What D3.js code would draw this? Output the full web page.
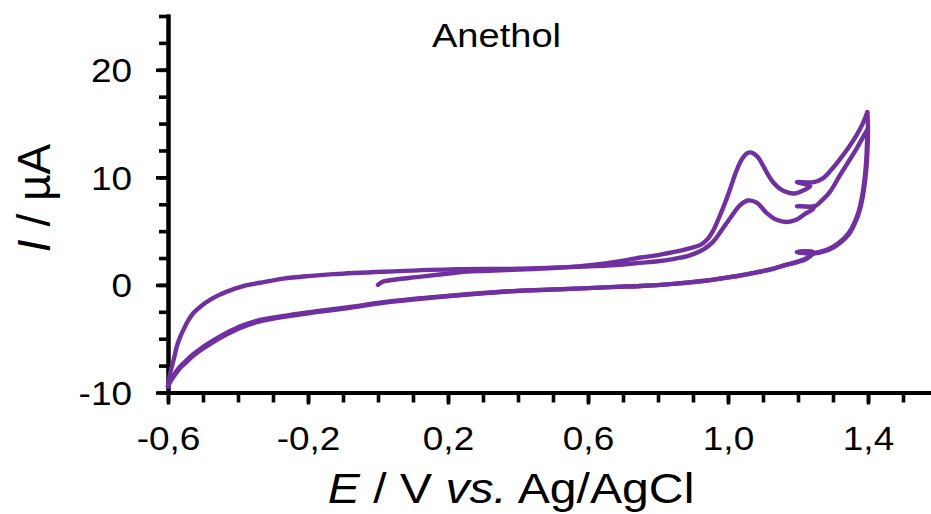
<!DOCTYPE html>
<html>
<head>
<meta charset="utf-8">
<script src="https://cdn.jsdelivr.net/npm/d3@7"></script>
<style>
  html, body { margin: 0; padding: 0; background: #fff; }
  svg { display: block; font-family: "Liberation Sans", Arial, sans-serif; }
</style>
</head>
<body>
<svg id="chart" width="931" height="514"></svg>
<script>
// Cyclic voltammogram of anethole: two full cycles, [E / V, I / µA]
const scan1Anodic = [
  [0.000, 0.00], [0.012, 0.28], [0.050, 0.50], [0.110, 0.72], [0.170, 0.95],
  [0.234, 1.18], [0.300, 1.30], [0.400, 1.43], [0.500, 1.58], [0.586, 1.77],
  [0.650, 2.00], [0.700, 2.25], [0.750, 2.55], [0.790, 2.72], [0.843, 3.05],
  [0.890, 3.40], [0.920, 3.70], [0.940, 4.20], [0.957, 5.00], [0.975, 6.30],
  [0.996, 8.00], [1.010, 9.30], [1.024, 10.60], [1.040, 11.70], [1.055, 12.25],
  [1.068, 12.30], [1.085, 11.90], [1.100, 11.10], [1.115, 10.20], [1.130, 9.50],
  [1.150, 8.90], [1.170, 8.60], [1.190, 8.50], [1.210, 8.70], [1.235, 9.20],
  [1.197, 9.55], [1.245, 9.55], [1.271, 9.90], [1.295, 10.70], [1.320, 11.70],
  [1.345, 12.80], [1.367, 13.90], [1.385, 15.00], [1.398, 16.06]
];
const scan1Cathodic = [
  [1.398, 16.06], [1.400, 14.50], [1.399, 13.00], [1.396, 11.10], [1.391, 9.50],
  [1.385, 8.20], [1.375, 6.80], [1.362, 5.70], [1.345, 4.70], [1.320, 3.90],
  [1.290, 3.30], [1.260, 3.00], [1.243, 2.90], [1.197, 3.05], [1.243, 3.02],
  [1.225, 2.45], [1.196, 2.10], [1.160, 1.80], [1.129, 1.50], [1.080, 1.15],
  [1.034, 0.87], [0.985, 0.62], [0.939, 0.40], [0.844, 0.10], [0.749, -0.10],
  [0.680, -0.18], [0.600, -0.30], [0.500, -0.42], [0.396, -0.55], [0.300, -0.75],
  [0.206, -1.00], [0.100, -1.30], [0.015, -1.60], [-0.080, -2.05], [-0.175, -2.45],
  [-0.250, -2.78], [-0.337, -3.25], [-0.390, -3.80], [-0.432, -4.45], [-0.480, -5.35],
  [-0.510, -6.00], [-0.528, -6.45], [-0.550, -7.10], [-0.566, -7.60], [-0.582, -8.30],
  [-0.594, -8.90], [-0.600, -9.40]
];
const scan2Anodic = [
  [-0.600, -9.40], [-0.596, -8.60], [-0.593, -8.10], [-0.589, -7.60], [-0.582, -6.70],
  [-0.575, -5.74], [-0.566, -4.90], [-0.556, -4.18], [-0.542, -3.30], [-0.528, -2.63],
  [-0.505, -1.95], [-0.480, -1.39], [-0.455, -0.95], [-0.432, -0.62], [-0.390, -0.15],
  [-0.337, 0.20], [-0.270, 0.58], [-0.200, 0.82], [-0.128, 1.00], [0.015, 1.23],
  [0.206, 1.45], [0.400, 1.50], [0.586, 1.70], [0.680, 1.85], [0.749, 2.05],
  [0.800, 2.20], [0.850, 2.45], [0.891, 2.75], [0.930, 3.30], [0.957, 4.00],
  [0.980, 5.00], [1.006, 6.20], [1.034, 7.40], [1.057, 7.85], [1.082, 7.65],
  [1.110, 6.70], [1.139, 6.05], [1.168, 5.85], [1.195, 6.05], [1.220, 6.60],
  [1.245, 7.15], [1.197, 7.32], [1.248, 7.32], [1.263, 7.70], [1.290, 8.60],
  [1.320, 10.20], [1.345, 11.50], [1.367, 12.65], [1.391, 14.05], [1.398, 14.40]
];
const scan2Cathodic = [
  [1.398, 14.40], [1.397, 13.00], [1.394, 11.10], [1.389, 9.50], [1.383, 8.20],
  [1.373, 6.80], [1.360, 5.70], [1.343, 4.75], [1.318, 3.95], [1.288, 3.35],
  [1.258, 3.05], [1.243, 2.95], [1.197, 3.08], [1.243, 3.05], [1.225, 2.50],
  [1.196, 2.15], [1.160, 1.82], [1.129, 1.52], [1.080, 1.17], [1.034, 0.88],
  [0.985, 0.63], [0.939, 0.41], [0.844, 0.10], [0.749, -0.10], [0.680, -0.18],
  [0.600, -0.30], [0.500, -0.43], [0.396, -0.57], [0.300, -0.78], [0.206, -1.03],
  [0.100, -1.35], [0.015, -1.66], [-0.080, -2.12], [-0.175, -2.53], [-0.250, -2.88],
  [-0.337, -3.38], [-0.390, -3.95], [-0.432, -4.60], [-0.480, -5.50], [-0.510, -6.15],
  [-0.528, -6.60], [-0.550, -7.25], [-0.566, -7.75], [-0.582, -8.45], [-0.594, -9.05],
  [-0.600, -9.45]
];

// Axis ticks and labels
const xMajorTicks = [-0.6, -0.2, 0.2, 0.6, 1.0, 1.4];
const xMinorTicks = d3.range(-6, 17).map(d => d / 10);
const yMajorTicks = [-10, 0, 10, 20];
const yMinorTicks = d3.range(-10, 25.1, 2.5);

const chartTitle = "Anethol";
const lineColor = "#7030A0";

const svg = d3.select("#chart");
svg.append("rect").attr("width", 931).attr("height", 514).attr("fill", "#fff");

const x = d3.scaleLinear().domain([-0.6, 1.6]).range([168, 938]);
const y = d3.scaleLinear().domain([-10, 25]).range([392.5, 16]);

const locale = d3.formatLocale({ decimal: ",", thousands: ".", grouping: [3], currency: ["", ""], minus: "-" });
const fmtX = locale.format(".1f");
const fmtY = locale.format("d");
const stretch = 1.12;

function styleAxis(g) {
  g.attr("font-size", null).attr("font-family", null);
  g.select(".domain").attr("stroke", "#000").attr("stroke-width", 4).attr("stroke-linecap", "square");
  g.selectAll(".tick line").attr("stroke", "#000").attr("stroke-width", 3.6);
}

// y axis: minor then labelled major ticks
svg.append("g").attr("transform", "translate(168,0)")
  .call(d3.axisLeft(y).tickValues(yMinorTicks).tickSize(9).tickSizeOuter(0).tickFormat(""))
  .call(styleAxis);
const yMajor = svg.append("g").attr("transform", "translate(168,0)")
  .call(d3.axisLeft(y).tickValues(yMajorTicks).tickSize(12).tickSizeOuter(0).tickFormat(fmtY))
  .call(styleAxis);
yMajor.selectAll(".tick text")
  .attr("x", -36 / stretch).attr("dy", "0.36em")
  .attr("transform", `scale(${stretch},1)`)
  .attr("font-size", 33).attr("fill", "#000").attr("text-anchor", "end");

// x axis: minor then labelled major ticks
svg.append("g").attr("transform", "translate(0,392.5)")
  .call(d3.axisBottom(x).tickValues(xMinorTicks).tickSize(10).tickSizeOuter(0).tickFormat(""))
  .call(styleAxis);
const xMajor = svg.append("g").attr("transform", "translate(0,392.5)")
  .call(d3.axisBottom(x).tickValues(xMajorTicks).tickSize(12).tickSizeOuter(0).tickFormat(fmtX))
  .call(styleAxis);
xMajor.selectAll(".tick text")
  .attr("y", 57.5).attr("dy", 0)
  .attr("transform", `scale(${stretch},1)`)
  .attr("font-size", 33).attr("fill", "#000").attr("text-anchor", "middle");

// voltammogram trace
const line = d3.line()
  .x(d => x(d[0]))
  .y(d => y(d[1]))
  .curve(d3.curveCatmullRom.alpha(0.5));

[scan1Anodic, scan1Cathodic, scan2Anodic, scan2Cathodic].forEach(seg => {
  svg.append("path")
    .datum(seg)
    .attr("d", line)
    .attr("fill", "none")
    .attr("stroke", lineColor)
    .attr("stroke-width", 4.4)
    .attr("stroke-linejoin", "round")
    .attr("stroke-linecap", "round");
});

// titles
svg.append("text")
  .attr("transform", `translate(496.5,47) scale(${stretch},1)`)
  .attr("text-anchor", "middle").attr("font-size", 34).attr("fill", "#000")
  .text(chartTitle);

const yTitle = svg.append("text")
  .attr("transform", "translate(50,198) rotate(-90)")
  .attr("text-anchor", "middle").attr("font-size", 46).attr("fill", "#000");
yTitle.append("tspan").attr("font-style", "italic").text("I");
yTitle.append("tspan").text(" / µA");

const xTitle = svg.append("text")
  .attr("transform", `translate(511,503) scale(${stretch},1)`)
  .attr("text-anchor", "middle").attr("font-size", 43).attr("fill", "#000");
xTitle.append("tspan").attr("font-style", "italic").text("E");
xTitle.append("tspan").text(" / V ");
xTitle.append("tspan").attr("font-style", "italic").text("vs.");
xTitle.append("tspan").text(" Ag/AgCl");
</script>
</body>
</html>
